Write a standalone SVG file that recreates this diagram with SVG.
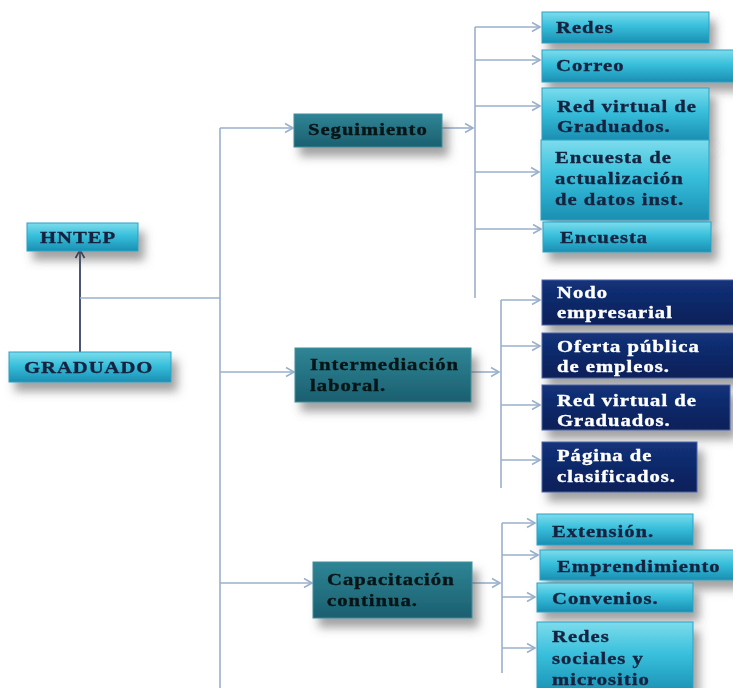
<svg xmlns="http://www.w3.org/2000/svg" width="733" height="688" viewBox="0 0 733 688">
<defs>
<linearGradient id="gCyan" x1="0" y1="0" x2="0" y2="1">
<stop offset="0" stop-color="#7ddcec"/><stop offset="0.45" stop-color="#38bfdc"/><stop offset="1" stop-color="#1a8fb2"/>
</linearGradient>
<linearGradient id="gTeal" x1="0" y1="0" x2="0" y2="1">
<stop offset="0" stop-color="#2f8595"/><stop offset="1" stop-color="#1a5f70"/>
</linearGradient>
<linearGradient id="gNavy" x1="0" y1="0" x2="0" y2="1">
<stop offset="0" stop-color="#13327a"/><stop offset="1" stop-color="#0a1f58"/>
</linearGradient>
<filter id="sh" x="-20%" y="-30%" width="150%" height="200%">
<feDropShadow dx="6" dy="9" stdDeviation="5" flood-color="#555" flood-opacity="0.55"/>
</filter>
<marker id="ah" markerWidth="12" markerHeight="12" refX="10" refY="6" orient="auto" markerUnits="userSpaceOnUse">
<path d="M2,1.5 L10,6 L2,10.5" fill="none" stroke="#9ab0cc" stroke-width="1.6"/>
</marker>
<marker id="ahd" markerWidth="12" markerHeight="12" refX="10" refY="6" orient="auto" markerUnits="userSpaceOnUse">
<path d="M2,1.5 L10,6 L2,10.5" fill="none" stroke="#1c2a55" stroke-width="1.6"/>
</marker>
</defs>
<style>
text{font-family:"Liberation Serif","Times New Roman",serif;font-weight:bold;font-size:16.5px;letter-spacing:0.8px;stroke-width:0.35px}
.c rect{fill:url(#gCyan);stroke:#2aa2c4;stroke-width:1}
.c text{fill:#16233f;stroke:#16233f}
.t rect{fill:url(#gTeal);stroke:#3e8e9c;stroke-width:1}
.t text{fill:#061416;stroke:#061416}
.n rect{fill:url(#gNavy);stroke:#4a64a8;stroke-width:1}
.n text{fill:#ffffff;stroke:#ffffff}
.ln{fill:none;stroke:#9ab0cc;stroke-width:1.6}
</style>

<g id="connectors">
<line x1="80" y1="360" x2="80" y2="250" stroke="#1c2a55" stroke-width="1.6" marker-end="url(#ahd)"/>
<path class="ln" d="M80,298 H220"/>
<path class="ln" d="M220,128 V688"/>
<path class="ln" d="M220,128 H293" marker-end="url(#ah)"/>
<path class="ln" d="M220,372 H294" marker-end="url(#ah)"/>
<path class="ln" d="M220,583 H312" marker-end="url(#ah)"/>
<path class="ln" d="M442,128 H473" marker-end="url(#ah)"/>
<path class="ln" d="M475,27 V298"/>
<path class="ln" d="M475,27 H540" marker-end="url(#ah)"/>
<path class="ln" d="M475,60 H540" marker-end="url(#ah)"/>
<path class="ln" d="M475,106 H540" marker-end="url(#ah)"/>
<path class="ln" d="M475,172 H539" marker-end="url(#ah)"/>
<path class="ln" d="M475,229 H541" marker-end="url(#ah)"/>
<path class="ln" d="M471,372 H499" marker-end="url(#ah)"/>
<path class="ln" d="M501,300 V488"/>
<path class="ln" d="M501,300 H540" marker-end="url(#ah)"/>
<path class="ln" d="M501,346 H540" marker-end="url(#ah)"/>
<path class="ln" d="M501,405 H540" marker-end="url(#ah)"/>
<path class="ln" d="M501,460 H540" marker-end="url(#ah)"/>
<path class="ln" d="M472,583 H500" marker-end="url(#ah)"/>
<path class="ln" d="M502,523 V673"/>
<path class="ln" d="M502,523 H535" marker-end="url(#ah)"/>
<path class="ln" d="M502,555 H538" marker-end="url(#ah)"/>
<path class="ln" d="M502,597 H535" marker-end="url(#ah)"/>
<path class="ln" d="M502,648 H535" marker-end="url(#ah)"/>
</g>

<g id="hntep" class="c" filter="url(#sh)"><rect x="27" y="223" width="111" height="28"/><text transform="translate(40,243) scale(1.25,1)">HNTEP</text></g>
<g id="graduado" class="c" filter="url(#sh)"><rect x="9" y="352" width="162" height="30"/><text transform="translate(24,373) scale(1.25,1)">GRADUADO</text></g>

<g id="seguimiento" class="t" filter="url(#sh)"><rect x="294" y="114" width="148" height="33"/><text transform="translate(308,135) scale(1.25,1)">Seguimiento</text></g>
<g id="intermediacion" class="t" filter="url(#sh)"><rect x="295" y="348" width="176" height="54"/><text transform="translate(310,370) scale(1.25,1)">Intermediación</text><text transform="translate(310,391) scale(1.25,1)">laboral.</text></g>
<g id="capacitacion" class="t" filter="url(#sh)"><rect x="313" y="562" width="159" height="56"/><text transform="translate(327,585) scale(1.25,1)">Capacitación</text><text transform="translate(327,606) scale(1.25,1)">continua.</text></g>

<g id="redes" class="c" filter="url(#sh)"><rect x="542" y="12" width="167" height="31"/><text transform="translate(556,33) scale(1.25,1)">Redes</text></g>
<g id="correo" class="c" filter="url(#sh)"><rect x="542" y="50" width="195" height="32"/><text transform="translate(556,71) scale(1.25,1)">Correo</text></g>
<g id="redvirtual1" class="c" filter="url(#sh)"><rect x="542" y="88" width="167" height="52"/><text transform="translate(557,112) scale(1.25,1)">Red virtual de</text><text transform="translate(557,132) scale(1.25,1)">Graduados.</text></g>
<g id="encuestaact" class="c" filter="url(#sh)"><rect x="541" y="140" width="168" height="80"/><text transform="translate(555,163) scale(1.25,1)">Encuesta de</text><text transform="translate(555,184) scale(1.25,1)">actualización</text><text transform="translate(555,205) scale(1.25,1)">de datos inst.</text></g>
<g id="encuesta" class="c" filter="url(#sh)"><rect x="543" y="222" width="168" height="30"/><text transform="translate(560,243) scale(1.25,1)">Encuesta</text></g>

<g id="nodo" class="n" filter="url(#sh)"><rect x="542" y="280" width="195" height="45"/><text transform="translate(557,298) scale(1.25,1)">Nodo</text><text transform="translate(557,318) scale(1.25,1)">empresarial</text></g>
<g id="oferta" class="n" filter="url(#sh)"><rect x="542" y="333" width="195" height="45"/><text transform="translate(557,352) scale(1.25,1)">Oferta pública</text><text transform="translate(557,372) scale(1.25,1)">de empleos.</text></g>
<g id="redvirtual2" class="n" filter="url(#sh)"><rect x="542" y="385" width="188" height="45"/><text transform="translate(557,406) scale(1.25,1)">Red virtual de</text><text transform="translate(557,426) scale(1.25,1)">Graduados.</text></g>
<g id="pagina" class="n" filter="url(#sh)"><rect x="542" y="442" width="155" height="50"/><text transform="translate(557,461) scale(1.25,1)">Página de</text><text transform="translate(557,482) scale(1.25,1)">clasificados.</text></g>

<g id="extension" class="c" filter="url(#sh)"><rect x="537" y="514" width="156" height="31"/><text transform="translate(552,537) scale(1.25,1)">Extensión.</text></g>
<g id="emprendimiento" class="c" filter="url(#sh)"><rect x="540" y="550" width="197" height="30"/><text transform="translate(557,572) scale(1.25,1)">Emprendimiento</text></g>
<g id="convenios" class="c" filter="url(#sh)"><rect x="537" y="583" width="156" height="29"/><text transform="translate(552,604) scale(1.25,1)">Convenios.</text></g>
<g id="redessociales" class="c" filter="url(#sh)"><rect x="537" y="622" width="156" height="72"/><text transform="translate(552,642) scale(1.25,1)">Redes</text><text transform="translate(552,664) scale(1.25,1)">sociales y</text><text transform="translate(552,685) scale(1.25,1)">micrositio</text></g>
</svg>
